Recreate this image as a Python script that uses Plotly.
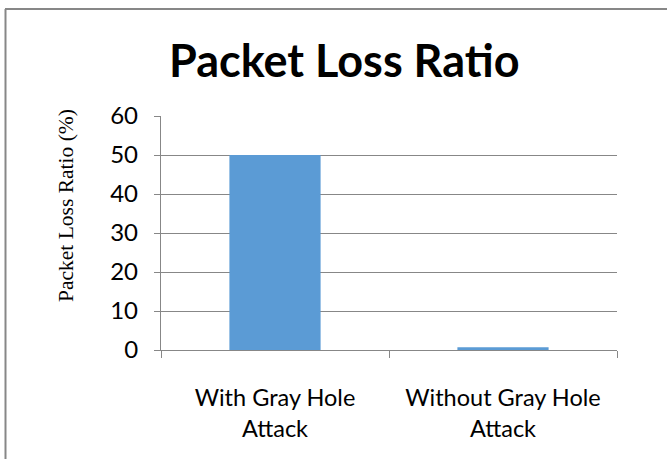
import plotly.graph_objects as go

# Chart data
categories = ["With Gray Hole<br>Attack", "Without Gray Hole<br>Attack"]
loss_ratio = [50, 0.7]
y_ticks = [0, 10, 20, 30, 40, 50, 60]

W, H = 667, 459
L, R, T, B = 161, 50, 116, 109
plot_w = W - L - R
plot_h = H - T - B


def px_x(px):
    return (px - L) / plot_w


def px_y(py):
    return (H - B - py) / plot_h


GRID = "#878787"
SANS = "Lato, Open Sans, sans-serif"

fig = go.Figure(
    go.Bar(
        x=categories,
        y=loss_ratio,
        width=0.4,
        marker=dict(color="#5B9BD5", line=dict(width=0)),
        hoverinfo="x+y",
    )
)

fig.update_layout(
    width=W,
    height=H,
    margin=dict(l=L, r=R, t=T, b=B),
    paper_bgcolor="white",
    plot_bgcolor="white",
    showlegend=False,
    font=dict(family=SANS, color="#000000"),
)

fig.update_xaxes(
    type="category",
    showgrid=False,
    showline=True,
    linecolor=GRID,
    linewidth=1.3,
    ticks="outside",
    tickson="boundaries",
    ticklen=7,
    tickwidth=1.3,
    tickcolor=GRID,
    ticklabelstandoff=27,
    tickfont=dict(size=23.5, family=SANS, color="#000000"),
    zeroline=False,
)

fig.update_yaxes(
    range=[0, 60],
    tickvals=y_ticks,
    ticktext=[str(v) for v in y_ticks],
    showgrid=True,
    gridcolor=GRID,
    gridwidth=1.3,
    showline=True,
    linecolor=GRID,
    linewidth=1.3,
    ticks="outside",
    ticklen=6,
    tickwidth=1.3,
    tickcolor=GRID,
    ticklabelstandoff=11,
    tickfont=dict(size=24, family=SANS, color="#000000"),
    zeroline=False,
)

# Chart title
fig.add_annotation(
    text="<b>Packet Loss Ratio</b>",
    xref="paper", yref="paper",
    x=px_x(344), y=px_y(60),
    xanchor="center", yanchor="middle",
    showarrow=False,
    font=dict(size=45, family=SANS, color="#000000"),
)

# Y-axis title
fig.add_annotation(
    text="Packet Loss Ratio (%)",
    xref="paper", yref="paper",
    x=px_x(66), y=px_y(206),
    xanchor="center", yanchor="middle",
    textangle=-90,
    showarrow=False,
    font=dict(size=21.5, family="Liberation Serif, Times New Roman, serif", color="#000000"),
)

# Chart-area frame (top and left edges)
fig.add_shape(type="line", xref="paper", yref="paper",
              x0=px_x(5), x1=px_x(700), y0=px_y(9), y1=px_y(9),
              line=dict(color=GRID, width=2))
fig.add_shape(type="line", xref="paper", yref="paper",
              x0=px_x(5.5), x1=px_x(5.5), y0=px_y(9), y1=px_y(500),
              line=dict(color=GRID, width=2))

fig.write_html("out.html")
